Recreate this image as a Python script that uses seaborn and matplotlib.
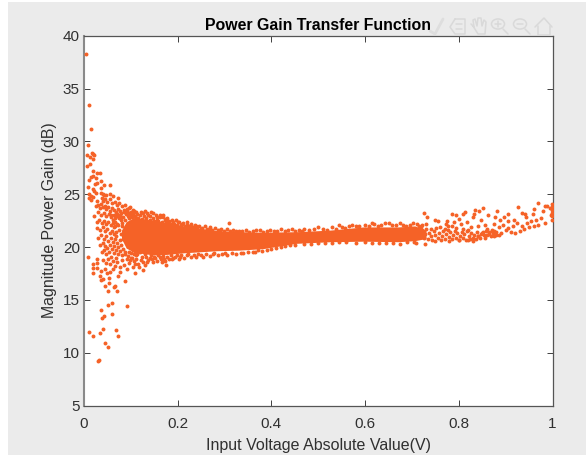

import pandas as pd
import matplotlib
matplotlib.use("Agg")
import matplotlib.pyplot as plt
import seaborn as sns
from matplotlib.lines import Line2D
from matplotlib.patches import Circle, Rectangle

# (voltage, gain) pairs that can be told apart in the picture
spike_top = [
    (.0036, 38.3), (.0107, 33.4), (.015, 31.2), (.009, 29.7), (.0064, 28.7), (.017, 28.9), (.0128, 28.5),
    (.0196, 28.8), (.0205, 28.7), (.0196, 28.3), (.0057, 27.7), (.0135, 27.9), (.0185, 27.2), (.028, 27.0),
    (.035, 27.0), (.0107, 26.3), (.0142, 26.6), (.02, 26.7), (.0256, 26.5), (.037, 26.25), (.0434, 25.85),
    (.056, 25.85), (.027, 26.1), (.024, 26.0), (.036, 25.6), (.0085, 25.7), (.02, 25.45), (.022, 25.3),
    (.0256, 25.1), (.01, 25.05), (.0157, 24.8), (.02, 24.75), (.0107, 24.6), (.0157, 24.45), (.0285, 24.35),
]
spike_bottom = [
    (.0085, 19.06), (.0185, 18.36), (.0185, 18.0), (.027, 18.0), (.0192, 17.5), (.0285, 18.87), (.027, 18.5),
    (.0356, 17.7), (.035, 17.3), (.037, 16.85), (.04, 17.0), (.0455, 16.3), (.0505, 15.8), (.054, 17.1),
    (.0525, 16.6), (.064, 16.2), (.066, 16.35), (.0705, 15.8), (.0875, 16.8), (.0925, 14.4), (.0605, 14.7),
    (.052, 14.5), (.0362, 14.0), (.038, 13.25), (.0435, 13.5), (.06, 13.7), (.0107, 12.0), (.0192, 11.6),
    (.035, 11.85), (.0413, 12.25), (.068, 12.1), (.072, 11.6), (.044, 10.9), (.051, 10.5), (.029, 9.2),
    (.032, 9.3),
]
left_cloud = [
    (.037, 25.1), (.04, 25.0), (.043, 24.95), (.048, 24.95), (.0555, 25.0), (.0626, 24.8), (.0733, 24.6),
    (.038, 24.6), (.041, 24.4), (.045, 24.5), (.05, 24.3), (.056, 24.5), (.06, 24.2), (.066, 24.3),
    (.07, 24.0), (.075, 24.2), (.081, 23.9), (.087, 24.0), (.098, 23.8), (.092, 23.6), (.104, 23.5),
    (.112, 23.3), (.134, 23.25), (.148, 23.2), (.162, 23.05), (.176, 22.65), (.18, 22.35), (.21, 22.2),
    (.23, 21.9), (.25, 21.75), (.31, 22.25), (.12, 23.0), (.126, 23.2), (.14, 22.9), (.155, 22.85),
    (.168, 22.8), (.19, 22.4), (.2, 22.35), (.22, 22.1), (.24, 22.0), (.27, 21.7), (.29, 21.65),
    (.025, 23.9), (.03, 24.0), (.034, 23.7), (.037, 24.1), (.04, 23.8), (.044, 23.9), (.047, 23.6),
    (.052, 23.8), (.056, 23.4), (.06, 23.7), (.064, 23.5), (.068, 23.3), (.072, 23.6), (.076, 23.4),
    (.08, 23.2), (.085, 23.35), (.09, 23.1), (.096, 23.25), (.1, 23.0), (.108, 22.95), (.03, 23.3),
    (.036, 23.0), (.042, 23.2), (.048, 22.9), (.053, 23.1), (.058, 22.8), (.063, 23.0), (.067, 22.7),
    (.071, 22.95), (.075, 22.75), (.079, 22.6), (.084, 22.85), (.022, 22.9), (.027, 22.4), (.032, 22.6),
    (.038, 22.3), (.043, 22.5), (.047, 22.2), (.052, 22.4), (.057, 22.1), (.062, 22.3), (.066, 22.0),
    (.07, 22.2), (.028, 21.8), (.034, 21.6), (.04, 21.9), (.045, 21.5), (.05, 21.7), (.055, 21.3),
    (.06, 21.55), (.065, 21.2), (.069, 21.45), (.03, 20.9), (.036, 21.1), (.042, 20.8), (.047, 21.0),
    (.052, 20.6), (.057, 20.9), (.062, 20.5), (.067, 20.8), (.071, 20.4), (.034, 20.2), (.04, 20.4),
    (.045, 20.1), (.05, 19.9), (.055, 20.2), (.06, 19.8), (.064, 20.1), (.069, 19.7), (.073, 20.0),
    (.038, 19.5), (.043, 19.7), (.048, 19.3), (.053, 19.5), (.058, 19.1), (.063, 19.4), (.068, 19.0),
    (.072, 19.3), (.077, 19.6), (.082, 19.2), (.087, 19.5), (.04, 18.8), (.046, 18.5), (.051, 18.9),
    (.056, 18.4), (.061, 18.7), (.066, 18.2), (.071, 18.6), (.076, 18.1), (.081, 18.8), (.086, 18.3),
    (.091, 18.9), (.096, 18.5), (.101, 19.0), (.106, 18.7), (.044, 17.9), (.049, 17.5), (.0555, 17.65),
    (.061, 17.9), (.0768, 17.65), (.073, 17.3), (.0925, 17.9), (.1088, 17.5), (.1266, 17.8), (.13, 18.3),
    (.105, 18.1), (.148, 18.6), (.162, 19.05), (.176, 18.3), (.166, 18.6), (.205, 19.05), (.187, 18.9),
    (.219, 19.2), (.115, 18.4), (.122, 18.8), (.135, 18.6), (.14, 19.0), (.152, 19.0), (.17, 18.9),
    (.195, 19.1), (.235, 19.2), (.25, 19.25), (.275, 19.35), (.3, 19.4), (.112, 19.2), (.13, 19.3),
]
left_dense = [
    (.058, 23.05), (.061, 22.55), (.064, 21.85), (.067, 22.35), (.069, 21.05), (.071, 23.15), (.073, 22.1),
    (.074, 21.65), (.076, 20.65), (.077, 23.0), (.078, 21.25), (.079, 22.85), (.08, 20.15), (.081, 21.95),
    (.082, 22.3), (.083, 19.85), (.084, 20.75), (.085, 21.4), (.086, 23.55), (.087, 22.6), (.088, 19.35),
    (.089, 20.95), (.09, 21.7), (.091, 23.4), (.092, 20.35), (.093, 22.95), (.094, 19.15), (.095, 23.65),
    (.096, 19.55), (.097, 22.75), (.098, 18.75), (.099, 20.0), (.1, 23.3), (.101, 19.45), (.102, 22.85),
    (.103, 18.95), (.104, 19.75), (.105, 23.15), (.106, 19.3), (.107, 23.4), (.108, 18.35), (.109, 19.6),
    (.11, 22.75), (.111, 18.85), (.113, 23.1), (.114, 19.35), (.116, 22.7), (.117, 18.15), (.119, 19.55),
    (.121, 23.35), (.123, 19.05), (.124, 22.65), (.127, 18.55), (.128, 19.6), (.129, 22.9), (.131, 23.45),
]
upper_fringe = [
    (.133, 22.7), (.137, 23.05), (.141, 22.55), (.144, 23.3), (.147, 22.75), (.15, 22.5), (.153, 23.0),
    (.156, 22.6), (.159, 22.45), (.163, 22.8), (.166, 22.4), (.169, 23.05), (.172, 22.55), (.175, 22.35),
    (.178, 22.75), (.182, 22.5), (.185, 22.2), (.188, 22.6), (.192, 22.15), (.196, 22.55), (.199, 22.1),
    (.203, 22.4), (.207, 22.05), (.211, 22.3), (.215, 22.0), (.219, 22.35), (.224, 21.95), (.228, 22.2),
    (.232, 21.9), (.237, 22.1), (.242, 21.85), (.246, 21.95), (.252, 21.8), (.258, 22.0), (.263, 21.7),
    (.268, 21.85), (.274, 21.65), (.28, 21.8), (.286, 21.6), (.293, 21.75), (.299, 21.55), (.305, 21.7),
    (.312, 21.55), (.318, 21.65), (.325, 21.5),
]
lower_fringe = [
    (.133, 19.05), (.137, 18.75), (.142, 19.25), (.146, 18.9), (.15, 19.05), (.155, 18.7), (.158, 19.2),
    (.164, 18.85), (.168, 19.15), (.173, 18.7), (.178, 19.1), (.182, 18.85), (.186, 19.2), (.191, 18.95),
    (.198, 19.25), (.202, 18.85), (.208, 19.25), (.213, 19.0), (.222, 19.3), (.228, 19.05), (.238, 19.05),
    (.244, 19.3), (.253, 19.1), (.26, 19.35), (.268, 19.15), (.278, 19.4), (.285, 19.2), (.295, 19.35),
    (.305, 19.25), (.315, 19.4), (.325, 19.35), (.335, 19.45), (.35, 19.55), (.365, 19.5), (.372, 19.7),
    (.39, 19.7), (.41, 19.95), (.43, 20.05),
]
band_edges = [
    (.33, 21.55), (.345, 21.6), (.36, 21.5), (.375, 21.65), (.39, 21.5), (.405, 21.55), (.42, 21.7),
    (.435, 21.6), (.45, 21.55), (.47, 21.7), (.49, 21.75), (.51, 21.7), (.53, 21.85), (.55, 21.9),
    (.565, 22.0), (.58, 21.95), (.6, 22.1), (.62, 22.15), (.635, 22.1), (.65, 22.25), (.667, 22.1),
    (.68, 22.1), (.695, 22.1), (.71, 22.15), (.72, 21.9), (.34, 19.4), (.36, 19.55), (.38, 19.65),
    (.4, 19.85), (.42, 20.0), (.44, 20.15), (.47, 20.25), (.5, 20.35), (.53, 20.4), (.56, 20.45),
    (.6, 20.45), (.63, 20.4), (.66, 20.35), (.69, 20.45), (.338, 21.5), (.352, 21.45), (.368, 21.6),
    (.382, 21.45), (.398, 21.65), (.412, 21.5), (.428, 21.55), (.443, 21.75), (.458, 21.65), (.465, 21.5),
    (.48, 21.6), (.5, 21.85), (.518, 21.6), (.538, 21.7), (.545, 22.05), (.558, 21.8), (.572, 22.1),
    (.588, 21.95), (.608, 22.0), (.615, 22.3), (.628, 22.0), (.642, 22.3), (.658, 22.05), (.675, 22.3),
    (.688, 22.0), (.702, 22.25), (.715, 22.0), (.722, 22.1), (.73, 22.2), (.45, 20.2), (.485, 20.3),
    (.515, 20.35), (.545, 20.45), (.58, 20.4), (.615, 20.4), (.645, 20.4), (.675, 20.3), (.705, 20.45),
]
tail_dense = [
    (.722, 21.6), (.725, 20.9), (.728, 21.2), (.731, 21.75), (.734, 20.75), (.737, 21.35), (.74, 21.05),
    (.743, 20.7), (.746, 21.55), (.749, 21.15), (.752, 21.8), (.755, 20.85), (.758, 21.3), (.761, 20.65),
    (.764, 21.05), (.767, 21.5), (.77, 20.8), (.773, 21.25), (.776, 21.65), (.779, 20.95), (.782, 21.4),
    (.785, 20.75), (.788, 21.15), (.791, 21.55), (.794, 20.9), (.797, 21.3), (.8, 20.7), (.803, 21.05),
    (.806, 21.45), (.809, 20.85), (.812, 21.2), (.815, 20.65), (.818, 21.55), (.821, 21.0), (.824, 20.8),
    (.827, 21.3), (.83, 20.9), (.833, 21.15), (.836, 20.75), (.839, 21.45), (.842, 21.05), (.845, 20.85),
    (.848, 21.2), (.851, 21.45), (.854, 21.1), (.857, 21.5), (.86, 21.15), (.864, 21.45), (.868, 21.05),
    (.872, 21.35), (.876, 21.5), (.88, 21.1),
]
right_tail = [
    (.725, 23.2), (.732, 22.85), (.727, 20.3), (.708, 20.4), (.749, 22.6), (.756, 22.45), (.775, 22.5),
    (.772, 22.2), (.785, 23.1), (.795, 23.05), (.809, 23.1), (.813, 23.3), (.834, 23.5), (.832, 23.15),
    (.83, 22.85), (.843, 23.4), (.851, 23.7), (.847, 22.6), (.863, 23.0), (.877, 22.85), (.875, 22.15),
    (.881, 23.45), (.889, 22.6), (.897, 22.85), (.905, 23.15), (.904, 22.45), (.926, 23.8), (.917, 22.6),
    (.934, 23.2), (.941, 23.15), (.943, 22.85), (.959, 23.15), (.961, 23.6), (.97, 24.15), (.985, 23.85),
    (.989, 23.85), (.98, 23.45), (.983, 22.3), (.999, 24.1), (.999, 23.8), (.999, 23.5), (.999, 23.2),
    (.998, 22.9), (.999, 22.6), (.995, 23.7), (.996, 23.0), (.778, 22.0), (.79, 22.4), (.8, 22.65),
    (.805, 22.2), (.818, 22.35), (.825, 21.9), (.84, 22.0), (.855, 22.1), (.86, 21.7), (.87, 21.5),
    (.88, 21.4), (.89, 21.35), (.9, 21.6), (.912, 21.4), (.92, 21.3), (.93, 21.5), (.94, 21.7),
    (.95, 21.9), (.96, 22.0), (.97, 22.1), (.915, 22.0), (.925, 22.3), (.935, 21.95), (.945, 22.25),
    (.955, 22.45), (.965, 22.6), (.975, 22.7), (.885, 21.9), (.895, 22.1), (.905, 21.8), (.85, 21.3),
    (.865, 21.25), (.875, 21.05), (.885, 21.15), (.84, 21.0), (.855, 20.9), (.87, 21.6), (.76, 21.9),
    (.77, 21.75), (.785, 22.0), (.795, 21.8), (.81, 21.7), (.82, 21.6), (.74, 21.7), (.75, 20.55),
    (.78, 20.6), (.8, 20.65), (.82, 20.7), (.83, 20.6),
]

# the middle of the band is solid colour, no single point can be read there,
# so only its lower and upper limit are taken from the picture
core_volt = [.08, .09, .107, .148, .177, .213, .284, .33, .383, .454, .525, .596, .67, .706, .73]
core_low = [20.8, 19.9, 19.5, 19.25, 19.3, 19.45, 19.65, 19.7, 19.85, 20.35, 20.5, 20.55, 20.5, 20.6, 20.8]
core_high = [21.6, 22.4, 22.8, 22.55, 22.3, 22.0, 21.55, 21.45, 21.4, 21.45, 21.6, 21.9, 21.9, 22.0, 21.6]

x_ticks = [0, 0.2, 0.4, 0.6, 0.8, 1]
x_labels = ["0", "0.2", "0.4", "0.6", "0.8", "1"]
y_ticks = [5, 10, 15, 20, 25, 30, 35, 40]

ORANGE = "#f56227"
W, H = 586, 455


def fig_xy(px, py):
    return px / W, 1 - py / H


def stroke(fig, pts, color="#d9d9d9", lw=1.1):
    xs, ys = zip(*[fig_xy(*p) for p in pts])
    fig.add_artist(Line2D(xs, ys, color=color, lw=lw, zorder=5))


def draw_toolbar(fig):
    # faded MATLAB toolbar, top right
    stroke(fig, [(430, 31), (435, 34), (443, 19)], color="#dedede", lw=2)
    stroke(fig, [(455, 19), (465, 19), (465, 34), (455, 34), (450, 27), (455, 19)])
    stroke(fig, [(456, 24), (462, 24)])
    stroke(fig, [(456, 29), (462, 29)])
    stroke(fig, [(473, 26), (478, 34), (485, 34), (486, 22), (484, 20), (482, 26), (481, 18), (478, 18),
                 (477, 26), (475, 19), (473, 20), (474, 27), (471, 24)])
    for cx, cy in [(498, 24), (520, 24)]:
        fig.add_artist(Circle(fig_xy(cx, cy), 6.5 / W, fill=False, ec="#d9d9d9", lw=1.1, zorder=5,
                              transform=fig.transFigure))
        stroke(fig, [(cx - 3, cy), (cx + 3, cy)])
        stroke(fig, [(cx + 5, cy + 5), (cx + 10, cy + 10)])
    stroke(fig, [(498, 21), (498, 27)])
    stroke(fig, [(535, 27), (544, 18), (552, 27)])
    stroke(fig, [(538, 26), (538, 35), (550, 35), (550, 26)])


def main():
    sns.set_theme(style="white")
    plt.rcParams["font.family"] = ["Liberation Sans", "DejaVu Sans"]

    points = spike_top + spike_bottom + left_cloud + left_dense + upper_fringe + lower_fringe
    points = points + band_edges + tail_dense + right_tail
    df = pd.DataFrame(points, columns=["volt", "gain"])

    fig = plt.figure(figsize=(W / 100, H / 100), dpi=100, facecolor="white")
    fig.add_artist(Rectangle((8 / W, 0), 1 - 8 / W, 1 - 2 / H, transform=fig.transFigure,
                             fc="#ebebeb", ec="none", zorder=-5))
    ax = fig.add_axes([84 / W, 1 - 405.5 / H, 468.5 / W, 369.8 / H])

    ax.fill_between(core_volt, core_low, core_high, color=ORANGE, lw=0, zorder=2)
    sns.scatterplot(data=df, x="volt", y="gain", color=ORANGE, s=8, linewidth=0, ax=ax, zorder=3)

    ax.set_xlim(0, 1)
    ax.set_ylim(5, 40)
    ax.set_xticks(x_ticks, x_labels)
    ax.set_yticks(y_ticks)
    ax.tick_params(direction="in", length=4.5, width=0.7, top=True, right=True, left=True, bottom=True,
                   color="#404040", labelcolor="#303030", labelsize=11, pad=3)
    ax.tick_params(axis="x", pad=8)
    ax.set_title("Power Gain Transfer Function", fontsize=11.4, fontweight="bold", color="black", pad=4)
    ax.set_xlabel("Input Voltage Absolute Value(V)", fontsize=11.5, color="#303030", labelpad=5)
    ax.set_ylabel("Magnitude Power Gain (dB)", fontsize=11.4, color="#303030", labelpad=4)
    for side in ["top", "right", "bottom"]:
        ax.spines[side].set_color("#555555")
        ax.spines[side].set_linewidth(0.9)
    ax.spines["left"].set_color("#8a8a8a")
    ax.spines["left"].set_linewidth(1.5)

    draw_toolbar(fig)
    fig.savefig("out.png", dpi=100, facecolor=fig.get_facecolor())


if __name__ == "__main__":
    main()
